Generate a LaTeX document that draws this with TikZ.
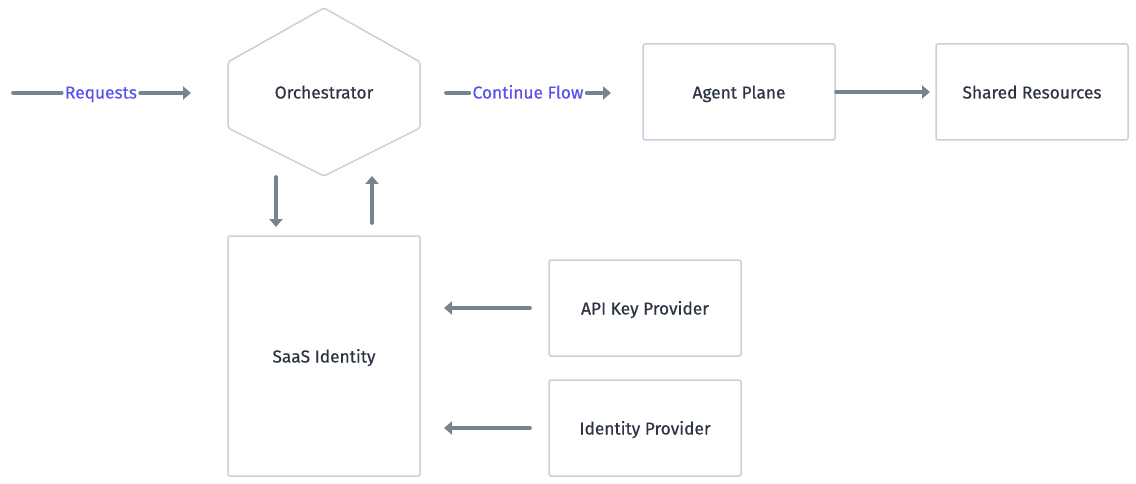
\documentclass[tikz,border=0pt]{standalone}
\usepackage{fontspec}
\setmainfont{Fira Sans}[FakeBold=0.5]
\usetikzlibrary{arrows.meta}
\definecolor{bordc}{HTML}{C5D1DB}
\definecolor{arrc}{HTML}{77838F}
\definecolor{labc}{HTML}{5B50EC}
\definecolor{txtc}{HTML}{2B3440}
\tikzset{
  box/.style={draw=bordc, line width=1.5pt, rounded corners=2pt, fill=white},
  boxtext/.style={text=txtc, font=\fontsize{17.3}{20}\selectfont, text height=12.5pt, text depth=3.5pt},
  flow/.style={draw=arrc, line width=3.6pt, line cap=round, -{Triangle[length=8pt,width=13pt]}},
  plain/.style={draw=arrc, line width=3.6pt, line cap=round},
  lab/.style={text=labc, font=\fontsize{17.3}{20}\selectfont, inner sep=3pt, text height=12.5pt, text depth=3.5pt},
}
\begin{document}
\begin{tikzpicture}[x=1pt,y=-1pt]
\useasboundingbox (0,0) rectangle (1136,484);
% hexagon
\draw[box] (324,8) -- (420,62) -- (420,128) -- (324,176) -- (228,128) -- (228,62) -- cycle;
\node[boxtext] (orch) at (324,94) {Orchestrator};
% boxes
\draw[box] (643,44) rectangle (835,140);
\node[boxtext] (agent) at (739,94) {Agent Plane};
\draw[box] (936,44) rectangle (1128,140);
\node[boxtext] (shared) at (1032,94) {Shared Resources};
\draw[box] (228,236) rectangle (420,476);
\node[boxtext] (saas) at (324,358) {SaaS Identity};
\draw[box] (549,260) rectangle (741,356);
\node[boxtext] (api) at (645,310) {API Key Provider};
\draw[box] (549,380) rectangle (741,476);
\node[boxtext] (idp) at (645,430) {Identity Provider};
% coordinates
\coordinate (rs) at (13,93);
\coordinate (re) at (191,93);
\coordinate (cs) at (446,93);
\coordinate (ce) at (611,93);
\coordinate (ae) at (930,92);
\coordinate (as) at (836,92);
\coordinate (d1) at (276,177);
\coordinate (d2) at (276,227);
\coordinate (u1) at (372,223);
\coordinate (u2) at (372,176);
\coordinate (k1) at (530,308);
\coordinate (k2) at (444,308);
\coordinate (i1) at (530,428);
\coordinate (i2) at (444,428);
% requests
\node[lab] (req) at (101,94) {Requests};
\draw[plain] (rs) -- (req.west |- rs);
\draw[flow] (req.east |- re) -- (re);
% continue flow
\node[lab] (cont) at (528,94) {Continue Flow};
\draw[plain] (cs) -- (cont.west |- cs);
\draw[flow] (cont.east |- ce) -- (ce);
% other arrows
\draw[flow] (as) -- (ae);
\draw[flow] (d1) -- (d2);
\draw[flow] (u1) -- (u2);
\draw[flow] (k1) -- (k2);
\draw[flow] (i1) -- (i2);
\end{tikzpicture}
\end{document}
